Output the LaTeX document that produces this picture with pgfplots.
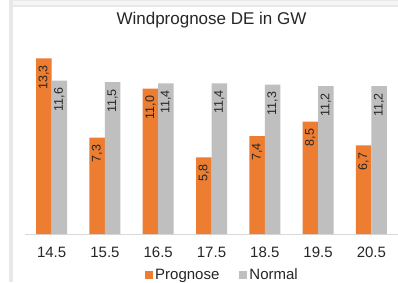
\documentclass[border=0pt]{standalone}
\usepackage{fontspec}
\setmainfont{Liberation Sans}
\usepackage{pgfplots}
\pgfplotsset{compat=1.18}
\definecolor{progorange}{HTML}{ED7D31}
\definecolor{normgray}{HTML}{BFBFBF}
\definecolor{axisgray}{HTML}{D9D9D9}
\definecolor{framegray}{HTML}{E8E8E8}
\definecolor{txt}{HTML}{262626}
\begin{document}
\begin{tikzpicture}[x=1pt,y=1pt]
\useasboundingbox (0,0) rectangle (398,282);
\fill[white] (0,0) rectangle (398,282);
\fill[framegray] (9,0) rectangle (13,282);
\fill[framegray] (13,275) rectangle (398,282);
\fill[white!60!framegray] (13,277.5) rectangle (398,280.5);
\begin{axis}[
  at={(25pt,48pt)}, anchor=south west,
  scale only axis, width=373pt, height=185pt,
  ybar=0pt, bar width=15.5pt,
  xmin=-0.5, xmax=6.5, ymin=0, ymax=14,
  axis y line=none, axis x line*=bottom,
  axis line style={-},
  x axis line style={axisgray, line width=1pt},
  xtick={0,1,2,3,4,5,6},
  xticklabels={14.5,15.5,16.5,17.5,18.5,19.5,20.5},
  major tick length=0pt,
  xticklabel style={font=\fontsize{15}{18}\selectfont, text=txt, anchor=north, inner sep=0pt, yshift=-12.5pt},
  title={Windprognose DE in GW},
  title style={font=\fontsize{17}{20}\selectfont, text=txt, at={(axis description cs:0.5,1.124)}, anchor=center, inner sep=0pt},
  nodes near coords={\pgfmathprintnumber[fixed, fixed zerofill, precision=1, use comma, assume math mode=true]{\pgfplotspointmeta}},
  every node near coord/.append style={rotate=90, anchor=east, inner xsep=7pt, inner ysep=0pt, font=\fontsize{12.5}{14}\selectfont, text=txt},
  legend style={at={(axis description cs:0.5295,-0.222)}, anchor=center, draw=none, fill=none, legend columns=2,
    font=\fontsize{15}{18}\selectfont, text=txt, inner sep=0pt,
    /tikz/every even column/.append style={column sep=18pt},
    /tikz/every odd column/.append style={column sep=0pt}},
]
\addplot[fill=progorange, draw=none, legend image code/.code={\fill[progorange] (0pt,-4pt) rectangle (8pt,4pt);}]
  coordinates {(0,13.3) (1,7.3) (2,11.0) (3,5.8) (4,7.4) (5,8.5) (6,6.7)};
\addplot[fill=normgray, draw=none, legend image code/.code={\fill[normgray] (0pt,-4pt) rectangle (8pt,4pt);}]
  coordinates {(0,11.6) (1,11.5) (2,11.4) (3,11.4) (4,11.3) (5,11.2) (6,11.2)};
\legend{Prognose,Normal}
\end{axis}
\end{tikzpicture}
\end{document}
